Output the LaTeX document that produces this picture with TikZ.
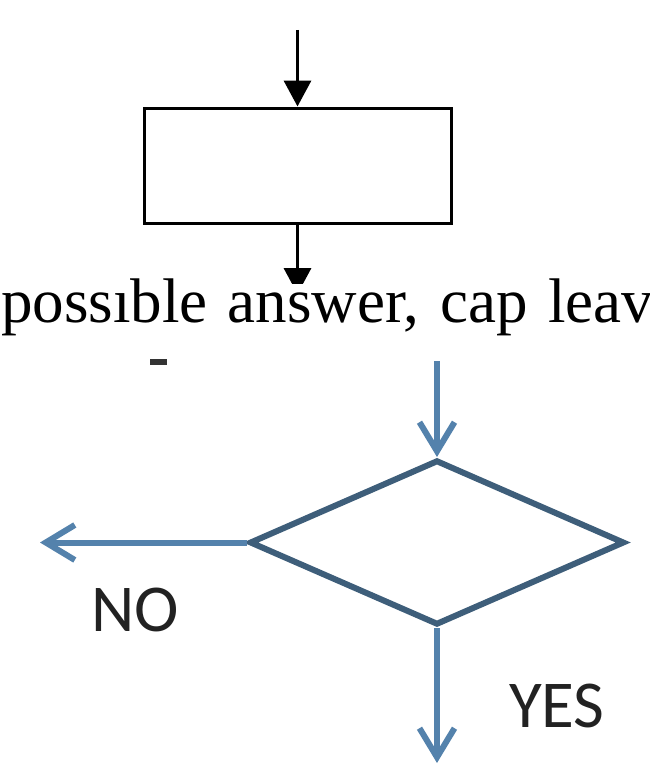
\documentclass[tikz,border=0pt]{standalone}
\usepackage{fontspec}
\setmainfont{Liberation Serif}
\newfontfamily\calibrifont{Carlito}
\usepackage{xcolor}
\usepackage{tikz}
\usetikzlibrary{arrows.meta,positioning,shapes.geometric}
\definecolor{flowblue}{RGB}{84,130,172}
\definecolor{flowedge}{RGB}{62,94,122}
\definecolor{labelink}{RGB}{34,34,34}

\begin{document}
\begin{tikzpicture}[x=1pt,y=-1pt,
    procbox/.style={draw=black, line width=3pt, minimum width=307pt, minimum height=115pt, inner sep=0pt},
    blackarrow/.style={line width=3.5pt, -{Triangle[length=26pt,width=27pt]}},
    decbox/.style={diamond, draw=flowedge, line width=6pt, minimum width=375pt, minimum height=165pt, inner sep=0pt},
    bluearrow/.style={draw=flowblue, line width=6pt, line join=round, -{Straight Barb[length=29pt,width=35pt]}},
    answer/.style={font=\calibrifont\fontsize{67}{70}\selectfont, text=labelink, inner sep=0pt}]
    \useasboundingbox (0,0) rectangle (649,768);
    \node[procbox] (proc) at (297.5,165.5) {};
    \coordinate (procin) at (297.5,30);
    \coordinate (procout) at (297.5,294);
    \draw[blackarrow] (procin) -- (proc.north);
    \draw[blackarrow] (proc.south) -- (procout);
    \node[anchor=base west, inner sep=0pt, fill=white, text height=38pt, text depth=20pt,
      font=\fontsize{63}{67}\selectfont] (line) at (1,322)
      {\makebox[652pt][s]{possıble answer, cap leav}};
    \fill[black!80] (150,359) rectangle (167,365);
    \node[decbox] (dec) at (437,542.5) {};
    \coordinate (decin) at (437,361);
    \coordinate (noend) at (40,542.5);
    \coordinate (yesend) at (437,763);
    \draw[bluearrow] (decin) -- (dec.north);
    \draw[bluearrow] (dec.west) -- (noend);
    \draw[bluearrow] (dec.south) -- (yesend);
    \node[answer] (no) at (135,610) {NO};
    \node[answer] (yes) at (557,706) {YES};
  \end{tikzpicture}
\end{document}
